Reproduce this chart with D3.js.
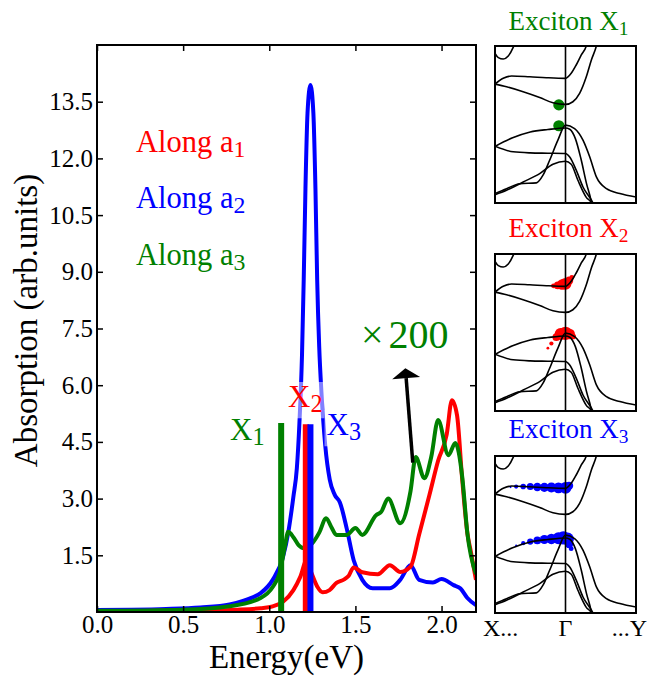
<!DOCTYPE html>
<html><head><meta charset="utf-8">
<script src="https://cdn.jsdelivr.net/npm/d3@7"></script>
<style>body{margin:0;background:#fff}svg{display:block}</style>
</head><body>
<svg id="c" width="648" height="677"></svg>
<script>
// ---------- DATA ----------
// Absorption spectra [energy (eV), absorption (arb. units)]
const alongA1 = [[0,0.02],[0.5,0.03],[0.8,0.06],[0.95,0.1],[1.02,0.15],[1.08,0.27],[1.14,0.58],[1.18,0.93],[1.216,1.36],[1.245,1.03],[1.28,0.66],[1.31,0.52],[1.35,0.58],[1.39,0.77],[1.43,0.85],[1.46,0.95],[1.49,1.18],[1.54,1.05],[1.63,1.0],[1.70,1.24],[1.76,1.06],[1.82,1.2],[1.87,2.05],[1.93,3.1],[1.98,4.0],[2.03,4.7],[2.06,5.6],[2.09,5.2],[2.12,3.5],[2.15,2.08],[2.17,1.6],[2.2,0.85]];
const alongA2 = [[0,0.05],[0.2,0.06],[0.4,0.08],[0.6,0.12],[0.77,0.2],[0.9,0.38],[0.95,0.5],[1.02,0.85],[1.08,1.46],[1.11,2.1],[1.14,3.05],[1.16,3.8],[1.175,5.0],[1.19,6.8],[1.2,8.8],[1.21,11.2],[1.222,13.2],[1.239,13.94],[1.256,13.2],[1.268,11.2],[1.278,8.8],[1.29,7.0],[1.303,5.8],[1.325,4.4],[1.351,3.5],[1.38,3.1],[1.41,2.9],[1.45,2.2],[1.49,1.37],[1.54,0.85],[1.60,0.63],[1.70,0.63],[1.76,0.85],[1.82,1.24],[1.87,0.85],[1.95,0.78],[2.0,0.87],[2.07,0.71],[2.11,0.62],[2.15,0.37],[2.2,0.18]];
const alongA3 = [[0,0.03],[0.5,0.06],[0.77,0.15],[0.95,0.37],[1.02,0.66],[1.06,1.03],[1.09,1.72],[1.11,2.12],[1.14,1.98],[1.17,1.77],[1.20,1.69],[1.25,1.82],[1.29,2.1],[1.33,2.48],[1.36,2.25],[1.39,2.04],[1.45,2.04],[1.50,2.22],[1.54,2.04],[1.62,2.56],[1.65,2.65],[1.69,3.0],[1.76,2.35],[1.82,3.2],[1.85,4.1],[1.90,3.54],[1.94,4.1],[1.98,5.08],[2.04,4.15],[2.08,4.47],[2.12,3.58],[2.15,2.08],[2.2,1.0]];
const seriesNames = ["a1","a2","a3"];
const seriesColors = ["#ff0000","#0000ff","#008000"];
// Exciton oscillator bars (x200): energy, strength
const excitonNames = ["X1","X2","X3"];
const excitonEnergy = [1.069, 1.212, 1.239];
const excitonStrength = [5.0, 4.97, 4.97];
const excitonColors = ["#008000","#ff0000","#0000ff"];
const xTicks = [0.0,0.5,1.0,1.5,2.0];
const yTicks = [1.5,3.0,4.5,6.0,7.5,9.0,10.5,12.0,13.5];
const arrowTail = [1.833, 3.95];
const arrowTip = [1.79, 6.45];

// Band structure along X...Γ...Y  [k, normalized energy]
const bands = [
  [[-1,0.953],[-0.953,0.926],[-0.883,0.917],[-0.812,0.936],[-0.742,0.991],[-0.70,1.04]],
  [[-1,0.757],[-0.883,0.794],[-0.765,0.809],[-0.507,0.804],[-0.272,0.798],[0,0.794],[0.081,0.826],[0.152,0.879],[0.224,0.943],[0.295,1.0],[0.33,1.06]],
  [[-1,0.757],[-0.836,0.740],[-0.601,0.709],[-0.366,0.672],[-0.178,0.638],[0,0.628],[0.105,0.645],[0.2,0.698],[0.295,0.804],[0.367,0.911],[0.438,1.0],[0.46,1.04]],
  [[-1,0.36],[-0.75,0.415],[-0.5,0.452],[-0.25,0.468],[0,0.478],[0.06,0.47],[0.14,0.41],[0.22,0.28],[0.3,0.12],[0.36,0.02],[0.38,-0.03]],
  [[-1,0.362],[-0.742,0.326],[-0.5,0.319],[-0.25,0.317],[0,0.315],[0.057,0.294],[0.152,0.209],[0.248,0.102],[0.39,0.0],[0.42,-0.03]],
  [[-1,0.06],[-0.836,0.091],[-0.648,0.123],[-0.413,0.128],[-0.319,0.177],[-0.225,0.272],[-0.108,0.4],[0,0.496],[0.129,0.474],[0.248,0.4],[0.343,0.294],[0.438,0.166],[0.581,0.091],[0.771,0.06],[1,0.038]],
  [[-1,0.053],[-0.836,0.081],[-0.6,0.134],[-0.366,0.187],[-0.178,0.247],[0,0.266],[0.081,0.247],[0.176,0.145],[0.295,0.036],[0.367,0.0],[0.39,-0.03]]
];
const kLabels = ["X...","Γ","...Y"];
// Exciton weights on bands [k, normalized energy, weight]
const weightX1 = [[-0.094,0.625,0.8],[-0.094,0.492,0.8]];
const weightX2 = [[-0.17,0.797,0.35],[-0.11,0.8,0.55],[-0.05,0.805,0.75],[0.0,0.81,0.85],[0.05,0.83,0.6],[0.09,0.85,0.35],
                  [-0.13,0.47,0.55],[-0.07,0.49,0.85],[0,0.495,0.95],[0.06,0.49,0.75],[0.11,0.475,0.4],[-0.2,0.43,0.3],[-0.25,0.4,0.2]];
const weightX3 = [[-0.78,0.802,0.15],[-0.7,0.805,0.3],[-0.6,0.806,0.4],[-0.5,0.805,0.5],[-0.4,0.803,0.6],[-0.3,0.8,0.65],[-0.2,0.799,0.72],[-0.1,0.797,0.78],[0,0.797,0.85],[0.05,0.81,0.6],
                  [-0.7,0.43,0.15],[-0.6,0.445,0.3],[-0.5,0.455,0.45],[-0.4,0.462,0.55],[-0.3,0.468,0.65],[-0.2,0.472,0.75],[-0.1,0.476,0.85],[-0.03,0.478,0.95],[0.03,0.472,0.9],[0.05,0.44,0.6],[0.08,0.41,0.35]];
const panelTitles = ["Exciton X","Exciton X","Exciton X"];
const panelSubs = ["1","2","3"];
const panelColors = ["#008000","#ff0000","#0000ff"];
const panelWeights = [weightX1, weightX2, weightX3];

// ---------- DRAW ----------
const FONT = "'Liberation Serif', 'Times New Roman', serif";
const svg = d3.select("#c");
const M = {left:97, right:476, top:45, bottom:612};
const x = d3.scaleLinear().domain([0,2.2]).range([M.left,M.right]);
const y = d3.scaleLinear().domain([0,15]).range([M.bottom,M.top]);

svg.append("clipPath").attr("id","mainclip").append("rect")
  .attr("x",M.left).attr("y",M.top).attr("width",M.right-M.left).attr("height",M.bottom-M.top);

const line = d3.line().x(d=>x(d[0])).y(d=>y(d[1])).curve(d3.curveMonotoneX);
const gPlot = svg.append("g").attr("clip-path","url(#mainclip)");
const spectra = [alongA1, alongA2, alongA3];
[1,0,2].forEach(i=>{
  gPlot.append("path").datum(spectra[i]).attr("d",line)
    .attr("fill","none").attr("stroke",seriesColors[i]).attr("stroke-width",4).attr("stroke-linejoin","round");
});
excitonEnergy.forEach((e,i)=>{
  gPlot.append("line").attr("x1",x(e)).attr("x2",x(e)).attr("y1",y(0)).attr("y2",y(excitonStrength[i]))
    .attr("stroke",excitonColors[i]).attr("stroke-width",6);
});

// axes
const tl = 6;
svg.append("g").attr("transform",`translate(0,${M.bottom})`)
  .call(d3.axisBottom(x).tickValues(xTicks).tickFormat(d3.format(".1f")).tickSize(-tl).tickPadding(3))
  .call(g=>{g.select(".domain").remove(); g.selectAll("text").attr("font-size",25).attr("fill","#000");});
svg.append("g").attr("transform",`translate(0,${M.top})`)
  .call(d3.axisTop(x).tickValues(xTicks).tickFormat("").tickSize(-tl))
  .call(g=>g.select(".domain").remove());
svg.append("g").attr("transform",`translate(${M.left},0)`)
  .call(d3.axisLeft(y).tickValues(yTicks).tickFormat(d3.format(".1f")).tickSize(-tl).tickPadding(4))
  .call(g=>{g.select(".domain").remove(); g.selectAll("text").attr("font-size",25).attr("fill","#000");});
svg.append("g").attr("transform",`translate(${M.right},0)`)
  .call(d3.axisRight(y).tickValues(yTicks).tickFormat("").tickSize(-tl))
  .call(g=>g.select(".domain").remove());
svg.selectAll(".tick line").attr("stroke","#000").attr("stroke-width",1.5);
svg.append("rect").attr("x",M.left).attr("y",M.top).attr("width",M.right-M.left).attr("height",M.bottom-M.top)
  .attr("fill","none").attr("stroke","#000").attr("stroke-width",2);

svg.append("text").attr("x",(M.left+M.right)/2).attr("y",668).attr("text-anchor","middle")
  .attr("font-size",33).text("Energy(eV)");
svg.append("text").attr("transform",`translate(37,${(M.top+M.bottom)/2 - 8}) rotate(-90)`).attr("text-anchor","middle")
  .attr("font-size",33).text("Absorption (arb.units)");

function subText(sel, main, sub, size, scale){
  sel.append("tspan").text(main);
  sel.append("tspan").attr("font-size",size*(scale||0.78)).attr("dy",size*0.17).text(sub);
}
const labelBase = [151.7, 208, 265];
seriesNames.forEach((n,i)=>{
  const t = svg.append("text").attr("x",136).attr("y",labelBase[i]).attr("font-size",30.5).attr("fill",seriesColors[i]);
  subText(t,"Along a",n.slice(1),30.5);
});

const exLabelPos = [[230,440],[288,407],[326.5,435]];
excitonNames.forEach((n,i)=>{
  const g = svg.append("g");
  const t = g.append("text").attr("x",exLabelPos[i][0]).attr("y",exLabelPos[i][1]).attr("font-size",31).attr("fill",excitonColors[i]).style("font-family",FONT);
  subText(t,"X",n.slice(1),31);
  const bb = t.node().getBBox();
  g.insert("rect","text").attr("x",bb.x-2).attr("y",bb.y+3).attr("width",bb.width+4).attr("height",bb.height-2)
    .attr("fill","#fff").attr("fill-opacity",0.5);
});

{
  const t = svg.append("text").attr("x",361).attr("y",348).attr("font-size",40).attr("fill","#008000");
  t.append("tspan").text("×");
  t.append("tspan").attr("dx",5).text("200");
}
{
  const x0=x(arrowTail[0]), y0=y(arrowTail[1]), x1=x(arrowTip[0]), y1=y(arrowTip[1]);
  const dx=x1-x0, dy=y1-y0, L=Math.hypot(dx,dy), ux=dx/L, uy=dy/L, hl=10, hw=14;
  const bx=x1-ux*hl, by=y1-uy*hl;
  svg.append("line").attr("x1",x0).attr("y1",y0).attr("x2",bx).attr("y2",by).attr("stroke","#000").attr("stroke-width",3.5);
  svg.append("path").attr("d",`M${x1},${y1}L${bx-uy*hw},${by+ux*hw}L${bx+uy*hw},${by-ux*hw}Z`).attr("fill","#000");
}

// ---------- band-structure panels ----------
const P = {left:495, right:636};
const panelTops = [46, 254, 456];
const panelH = 157;
const titleBase = [30, 237, 438];
const kx = d3.scaleLinear().domain([-1,1]).range([P.left,P.right]);
const rScale = d3.scaleLinear().domain([0,1]).range([0,7]);
panelTops.forEach((top,pi)=>{
  const ey = d3.scaleLinear().domain([0,1]).range([top+panelH, top]);
  const id = "pclip"+pi;
  svg.append("clipPath").attr("id",id).append("rect").attr("x",P.left).attr("y",top).attr("width",P.right-P.left).attr("height",panelH);
  const g = svg.append("g").attr("clip-path",`url(#${id})`);
  g.selectAll("circle").data(panelWeights[pi]).join("circle")
    .attr("cx",d=>kx(d[0])).attr("cy",d=>ey(d[1])).attr("r",d=>rScale(d[2])).attr("fill",panelColors[pi]);
  const bl = d3.line().x(d=>kx(d[0])).y(d=>ey(d[1])).curve(d3.curveMonotoneX);
  bands.forEach(b=>g.append("path").attr("d",bl(b)).attr("fill","none").attr("stroke","#000").attr("stroke-width",1.6));
  svg.append("line").attr("x1",kx(0)).attr("x2",kx(0)).attr("y1",top).attr("y2",top+panelH).attr("stroke","#000").attr("stroke-width",1.6);
  svg.append("rect").attr("x",P.left).attr("y",top).attr("width",P.right-P.left).attr("height",panelH)
    .attr("fill","none").attr("stroke","#000").attr("stroke-width",2);
  const t = svg.append("text").attr("x",(P.left+P.right)/2+3).attr("y",titleBase[pi]).attr("text-anchor","middle")
    .attr("font-size",27).attr("fill",panelColors[pi]);
  subText(t,panelTitles[pi],panelSubs[pi],27,0.72);
  if(pi===2){
    const yb = 636;
    svg.append("text").attr("x",483).attr("y",yb).attr("font-size",24).text(kLabels[0]);
    svg.append("text").attr("x",kx(0)).attr("y",yb).attr("text-anchor","middle").attr("font-size",24).text(kLabels[1]);
    svg.append("text").attr("x",647).attr("y",yb).attr("text-anchor","end").attr("font-size",24).text(kLabels[2]);
  }
});
svg.selectAll("text").style("font-family",FONT);
</script>
</body></html>
